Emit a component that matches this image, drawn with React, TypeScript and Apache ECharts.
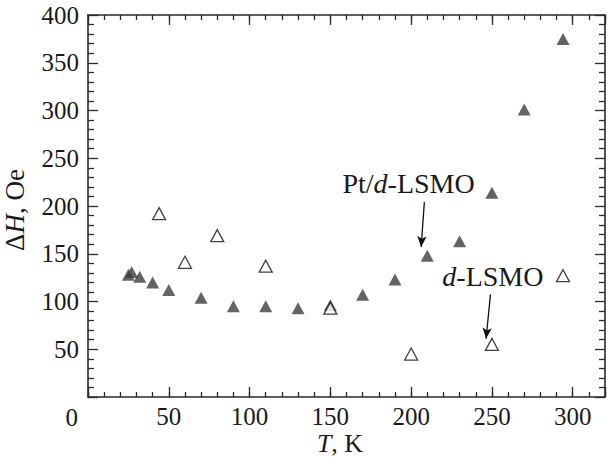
import React, { useEffect, useRef } from 'react';
import * as echarts from 'echarts';

// Pt/d-LSMO (filled triangles)
const filledT = [25, 27, 32, 40, 50, 70, 90, 110, 130, 150, 170, 190, 210, 230, 250, 270, 294];
const filledDH = [128, 131, 126, 120, 112, 104, 95, 95, 93, 96, 107, 123, 148, 163, 214, 301, 375];
// d-LSMO (open triangles)
const openT = [44, 60, 80, 110, 150, 200, 250, 294];
const openDH = [192, 141, 169, 137, 93, 45, 55, 127];

const xMin = 0;
const xMax = 320;
const yMin = 0;
const yMax = 400;
const majorStep = 50;
const minorStep = 10;

const FONT = "'Liberation Serif', 'Times New Roman', serif";
const AXIS_COLOR = '#2a2a2a';
const TEXT_COLOR = '#1a1a1a';

export default function App() {
  const ref = useRef<HTMLDivElement>(null);

  useEffect(() => {
    if (!ref.current) return;
    const chart = echarts.init(ref.current, undefined, { renderer: 'svg' });

    const lineStyle = { color: AXIS_COLOR, width: 1.6 };
    const baseX = (pos: 'top' | 'bottom', step: number, tickLen: number, labels: boolean, showLine: boolean) => ({
      type: 'value',
      position: pos,
      min: xMin,
      max: xMax,
      interval: step,
      axisLine: { show: showLine, onZero: false, lineStyle },
      axisTick: { show: true, inside: true, length: tickLen, lineStyle: { color: AXIS_COLOR, width: 1.3 } },
      axisLabel: labels
        ? {
            show: true,
            fontFamily: FONT,
            fontSize: 25,
            color: TEXT_COLOR,
            margin: 7,
            formatter: (v: number) => (v === 0 || v % majorStep !== 0 ? '' : String(v)),
          }
        : { show: false },
      splitLine: { show: false },
    });
    const baseY = (pos: 'left' | 'right', labels: boolean) => ({
      type: 'value',
      position: pos,
      min: yMin,
      max: yMax,
      interval: majorStep,
      axisLine: { show: true, onZero: false, lineStyle },
      axisTick: { show: true, inside: true, length: 10, lineStyle: { color: AXIS_COLOR, width: 1.3 } },
      minorTick: { show: true, splitNumber: majorStep / minorStep, length: 6, lineStyle: { color: AXIS_COLOR, width: 1.3 } },
      axisLabel: labels
        ? {
            show: true,
            fontFamily: FONT,
            fontSize: 25,
            color: TEXT_COLOR,
            margin: 9,
            formatter: (v: number) => (v === 0 ? '' : String(v)),
          }
        : { show: false },
      splitLine: { show: false },
    });

    const option: any = {
      animation: false,
      backgroundColor: '#fff',
      textStyle: { fontFamily: FONT },
      grid: { left: 88, top: 15, right: 5, bottom: 60, containLabel: false },
      xAxis: [
        baseX('bottom', majorStep, 10, true, true),
        baseX('bottom', minorStep, 5, false, false),
        baseX('top', majorStep, 10, false, true),
        baseX('top', minorStep, 5, false, false),
      ],
      yAxis: [baseY('left', true), baseY('right', false)],
      series: [
        {
          name: 'Pt/d-LSMO',
          type: 'scatter',
          xAxisIndex: 0,
          yAxisIndex: 0,
          symbol: 'triangle',
          symbolSize: [13, 12],
          itemStyle: { color: '#3d3d3d' },
          data: filledT.map((t, i) => [t, filledDH[i]]),
          markLine: {
            silent: true,
            symbol: ['none', 'arrow'],
            symbolSize: [7, 11],
            label: { show: false },
            lineStyle: { color: '#111', width: 1.3, type: 'solid' },
            data: [
              [{ coord: [208.2, 204.3] }, { coord: [206.2, 157] }],
              [{ coord: [249.1, 107.5] }, { coord: [246.4, 61] }],
            ],
          },
        },
        {
          name: 'd-LSMO',
          type: 'scatter',
          xAxisIndex: 0,
          yAxisIndex: 0,
          symbol: 'triangle',
          symbolSize: [13, 12],
          itemStyle: { color: '#fff', borderColor: '#111', borderWidth: 1.3 },
          data: openT.map((t, i) => [t, openDH[i]]),
        },
      ],
    };
    chart.setOption(option);

    const p1 = chart.convertToPixel({ seriesIndex: 0 }, [157.5, 223.6]) as number[];
    const p2 = chart.convertToPixel({ seriesIndex: 0 }, [219.3, 125.7]) as number[];
    const rich = {
      n: { fontFamily: FONT, fontSize: 28, fill: TEXT_COLOR },
      i: { fontFamily: FONT, fontSize: 28, fontStyle: 'italic', fill: TEXT_COLOR },
    };
    const richT = {
      n: { fontFamily: FONT, fontSize: 27, fill: TEXT_COLOR },
      i: { fontFamily: FONT, fontSize: 27, fontStyle: 'italic', fill: TEXT_COLOR },
    };
    const richX = {
      n: { fontFamily: FONT, fontSize: 26, fill: TEXT_COLOR },
      i: { fontFamily: FONT, fontSize: 26, fontStyle: 'italic', fill: TEXT_COLOR },
    };
    chart.setOption({
      graphic: [
        {
          type: 'text',
          x: p1[0],
          y: p1[1],
          style: { text: '{n|Pt/}{i|d}{n|-LSMO}', rich, align: 'left', verticalAlign: 'middle' },
        },
        {
          type: 'text',
          x: p2[0],
          y: p2[1],
          style: { text: '{i|d}{n|-LSMO}', rich, align: 'left', verticalAlign: 'middle' },
        },
        {
          type: 'text',
          x: 71.7,
          y: 417,
          style: { text: '0', fontFamily: FONT, fontSize: 25, fill: TEXT_COLOR, align: 'center', verticalAlign: 'middle' },
        },
        {
          type: 'text',
          x: 340,
          y: 443,
          style: { text: '{i|T}{n|, K}', rich: richX, align: 'center', verticalAlign: 'middle' },
        },
        {
          type: 'text',
          x: 15,
          y: 210,
          rotation: Math.PI / 2,
          style: { text: '{n|Δ}{i|H}{n|, Oe}', rich: richT, align: 'center', verticalAlign: 'middle' },
        },
      ],
    });

    return () => chart.dispose();
  }, []);

  return <div ref={ref} style={{ width: 610, height: 457, position: 'absolute', left: 0, top: 0 }} />;
}
